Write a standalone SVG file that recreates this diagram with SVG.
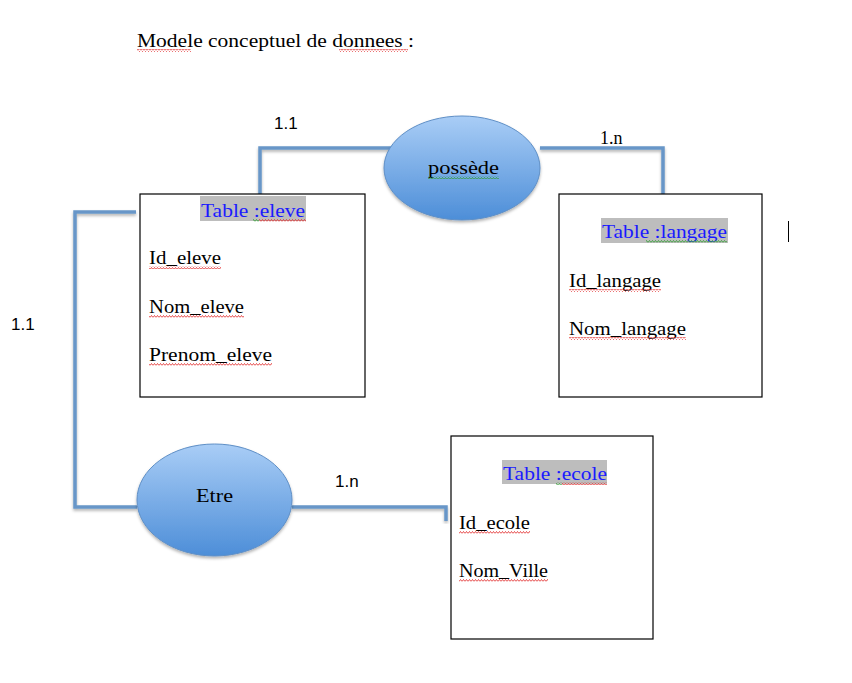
<svg xmlns="http://www.w3.org/2000/svg" width="852" height="683" viewBox="0 0 852 683">
<defs>
<linearGradient id="ell" x1="0" y1="0" x2="0" y2="1">
<stop offset="0" stop-color="#a9cdf6"/>
<stop offset="1" stop-color="#4d8ed8"/>
</linearGradient>
<filter id="sh" x="-10%" y="-10%" width="120%" height="130%">
<feDropShadow dx="0" dy="2" stdDeviation="1.5" flood-color="#000" flood-opacity="0.3"/>
</filter>
<pattern id="sqR" width="3" height="3" patternUnits="userSpaceOnUse">
<path d="M0 2.5 L1.5 0.5 L3 2.5" fill="none" stroke="#e02020" stroke-width="0.8"/>
</pattern>
<pattern id="sqG" width="3" height="3" patternUnits="userSpaceOnUse">
<path d="M0 2.5 L1.5 0.5 L3 2.5" fill="none" stroke="#2a9a2a" stroke-width="0.8"/>
</pattern>
</defs>
<style>
.t{font-family:"Liberation Serif","Times New Roman",serif;font-size:19px;fill:#000}
.h{font-family:"Liberation Serif","Times New Roman",serif;font-size:19px;fill:#1a1aff}
.c{font-family:"Liberation Sans",Arial,sans-serif;font-size:17px;fill:#000}
.box{fill:#fff;stroke:#000;stroke-width:1.2}
.hl{fill:#bdbdbd}
.e{fill:url(#ell);stroke:#5f8fc6;stroke-width:1;filter:url(#sh)}
.ln{fill:none;stroke:#6796c8;stroke-width:3.5;filter:url(#sh)}
.r{fill:url(#sqR)}
.g{fill:url(#sqG)}
</style>
<rect width="852" height="683" fill="#fff"/>

<g id="title">
<text class="t" x="137" y="47" textLength="277" lengthAdjust="spacingAndGlyphs">Modele conceptuel de donnees :</text>
<rect class="r" x="137" y="49" width="54" height="3"/>
<rect class="r" x="339" y="49" width="69" height="3"/>
</g>

<g id="connectors">
<polyline class="ln" points="260,195 260,148 400,148"/>
<polyline class="ln" points="540,148 663,148 663,194"/>
<polyline class="ln" points="136,212 75,212 75,507 137,507"/>
<polyline class="ln" points="292,507 446,507 446,521"/>
<text class="c" x="274" y="129">1.1</text>
<text class="t" x="600" y="144" style="font-size:18px">1.n</text>
<text class="c" x="11" y="330">1.1</text>
<text class="c" x="335" y="487">1.n</text>
</g>

<g id="possede">
<ellipse class="e" cx="462" cy="168" rx="78" ry="52"/>
<text class="t" x="428" y="174" textLength="71" lengthAdjust="spacingAndGlyphs">possède</text>
<rect class="g" x="428" y="176" width="71" height="3"/>
</g>

<g id="etre">
<ellipse class="e" cx="214.5" cy="500" rx="77.5" ry="56"/>
<text class="t" x="196" y="502" textLength="37" lengthAdjust="spacingAndGlyphs">Etre</text>
</g>

<g id="eleve">
<rect class="box" x="140" y="194" width="225" height="203"/>
<rect class="hl" x="200" y="196" width="106" height="25"/>
<text class="h" x="201" y="217" textLength="104" lengthAdjust="spacingAndGlyphs">Table :eleve</text>
<rect class="g" x="253" y="219" width="6" height="3"/>
<rect class="r" x="259" y="219" width="47" height="3"/>
<text class="t" x="149" y="264" textLength="72" lengthAdjust="spacingAndGlyphs">Id_eleve</text>
<rect class="r" x="149" y="266" width="72" height="3"/>
<text class="t" x="149" y="313" textLength="95" lengthAdjust="spacingAndGlyphs">Nom_eleve</text>
<rect class="r" x="149" y="315" width="95" height="3"/>
<text class="t" x="149" y="361" textLength="123" lengthAdjust="spacingAndGlyphs">Prenom_eleve</text>
<rect class="r" x="149" y="363" width="123" height="3"/>
</g>

<g id="langage">
<rect class="box" x="559" y="194" width="203" height="203"/>
<rect class="hl" x="601" y="218" width="127" height="25"/>
<text class="h" x="602" y="238" textLength="125" lengthAdjust="spacingAndGlyphs">Table :langage</text>
<rect class="g" x="646" y="240" width="81" height="3"/>
<text class="t" x="569" y="287" textLength="92" lengthAdjust="spacingAndGlyphs">Id_langage</text>
<rect class="r" x="569" y="289" width="92" height="3"/>
<text class="t" x="569" y="335" textLength="117" lengthAdjust="spacingAndGlyphs">Nom_langage</text>
<rect class="r" x="569" y="337" width="117" height="3"/>
</g>

<g id="ecole">
<rect class="box" x="451" y="436" width="202" height="203"/>
<rect class="hl" x="502" y="460" width="105" height="24"/>
<text class="h" x="503" y="480" textLength="104" lengthAdjust="spacingAndGlyphs">Table :ecole</text>
<rect class="g" x="556" y="482" width="6" height="3"/>
<rect class="r" x="562" y="482" width="45" height="3"/>
<text class="t" x="459" y="529" textLength="71" lengthAdjust="spacingAndGlyphs">Id_ecole</text>
<rect class="r" x="459" y="531" width="71" height="3"/>
<text class="t" x="459" y="577" textLength="89" lengthAdjust="spacingAndGlyphs">Nom_Ville</text>
<rect class="r" x="459" y="579" width="89" height="3"/>
</g>

<line x1="788.5" y1="221" x2="788.5" y2="242" stroke="#000" stroke-width="1"/>
</svg>
